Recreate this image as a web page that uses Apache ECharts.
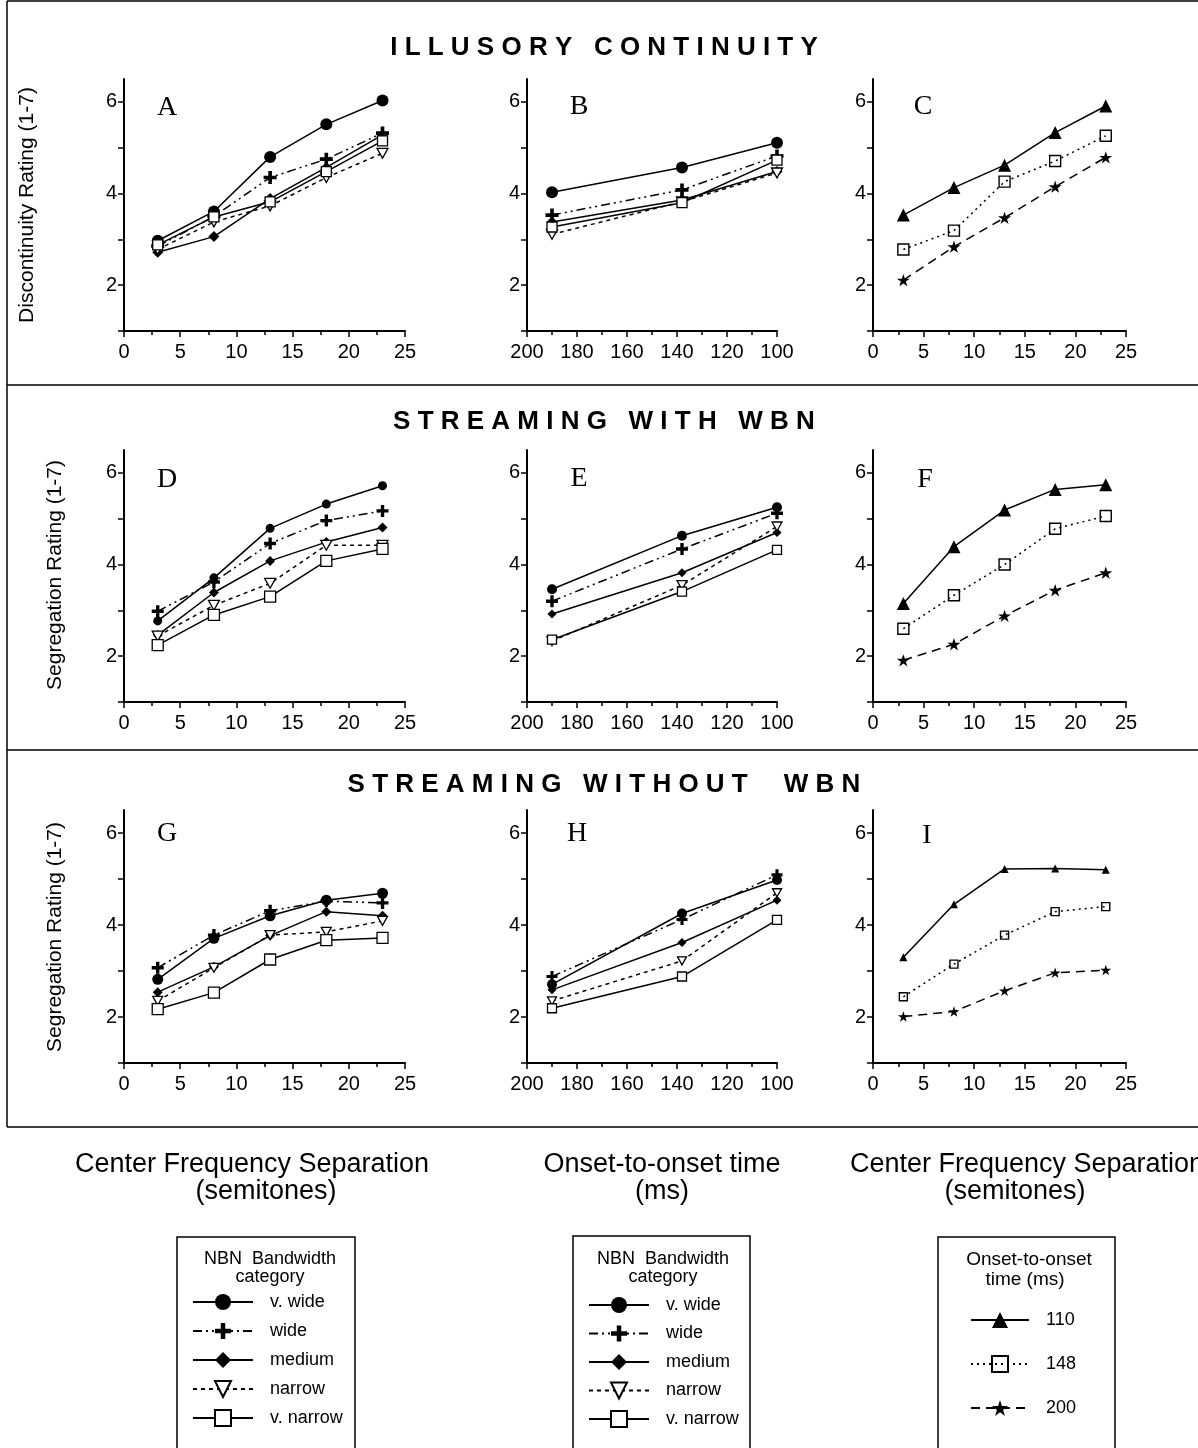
<!DOCTYPE html>
<html><head><meta charset="utf-8">
<script src="https://cdn.jsdelivr.net/npm/echarts@6/dist/echarts.min.js"></script>
<style>html,body{margin:0;padding:0;background:#fff}#c{width:1198px;height:1448px}</style>
</head><body><div id="c"></div>
<script>
// ---------------- DATA ----------------
const semitones = [3, 8, 13, 18, 23];
const onsetTimes = [190, 138, 100];
const nbnCategories = ['v. wide', 'wide', 'medium', 'narrow', 'v. narrow'];
const onsetCategories = ['110', '148', '200'];
const semitoneTickLabels = [0, 5, 10, 15, 20, 25];
const onsetTickLabels = [200, 180, 160, 140, 120, 100];
const ratingTickLabels = [2, 4, 6];
const ratingTicks = [1, 2, 3, 4, 5, 6];

// Illusory continuity
const panelA = [ // v. wide, wide, medium, narrow, v. narrow (x = semitones)
  [2.97, 3.61, 4.80, 5.51, 6.03],
  [2.85, 3.50, 4.35, 4.75, 5.32],
  [2.72, 3.06, 3.89, 4.57, 5.28],
  [2.78, 3.38, 3.73, 4.35, 4.88],
  [2.88, 3.49, 3.82, 4.48, 5.15]
];
const panelB = [ // x = onset times
  [4.03, 4.57, 5.11],
  [3.53, 4.08, 4.82],
  [3.38, 3.86, 4.48],
  [3.11, 3.82, 4.45],
  [3.27, 3.80, 4.73]
];
const panelC = [ // 110, 148, 200 ms
  [3.53, 4.13, 4.62, 5.33, 5.91],
  [2.78, 3.19, 4.26, 4.71, 5.26],
  [2.11, 2.84, 3.47, 4.15, 4.79]
];
// Streaming with WBN
const panelD = [
  [2.77, 3.71, 4.79, 5.32, 5.72],
  [2.98, 3.62, 4.46, 4.96, 5.17],
  [2.46, 3.39, 4.08, 4.49, 4.81],
  [2.44, 3.11, 3.59, 4.42, 4.42],
  [2.24, 2.90, 3.30, 4.08, 4.34]
];
const panelE = [
  [3.46, 4.63, 5.25],
  [3.20, 4.34, 5.12],
  [2.92, 3.82, 4.70],
  [2.33, 3.55, 4.83],
  [2.36, 3.41, 4.32]
];
const panelF = [
  [3.15, 4.39, 5.19, 5.64, 5.74],
  [2.60, 3.33, 4.00, 4.78, 5.06],
  [1.91, 2.26, 2.88, 3.44, 3.82]
];
// Streaming without WBN
const panelG = [
  [2.82, 3.71, 4.20, 4.54, 4.69],
  [3.07, 3.78, 4.31, 4.52, 4.48],
  [2.54, 3.09, 3.77, 4.29, 4.20],
  [2.35, 3.07, 3.78, 3.85, 4.09],
  [2.17, 2.53, 3.25, 3.67, 3.72]
];
const panelH = [
  [2.71, 4.25, 4.98],
  [2.88, 4.12, 5.09],
  [2.59, 3.62, 4.54],
  [2.35, 3.22, 4.70],
  [2.19, 2.88, 4.11]
];
const panelI = [
  [3.30, 4.45, 5.22, 5.23, 5.20],
  [2.44, 3.15, 3.78, 4.29, 4.40],
  [2.01, 2.12, 2.57, 2.96, 3.02]
];

// ---------------- STYLES ----------------
const FONT = "'Liberation Sans', Arial, Helvetica, sans-serif";
const SERIF = "'Liberation Serif', 'Times New Roman', serif";
const plusPath = 'path://M3.6,0H6.4V3.6H10V6.4H6.4V10H3.6V6.4H0V3.6H3.6Z';
const triDownPath = 'path://M0,0H10L5,9Z';
const starPath = 'path://M50,0L61.2,34.5H97.6L68.2,55.9L79.4,90.5L50,69.1L20.6,90.5L31.8,55.9L2.4,34.5H38.8Z';

const nbnStyles = [
  {symbol: 'circle', dash: 'solid', fill: '#000', bw: 0},
  {symbol: plusPath, dash: [9, 4, 2, 4, 2, 4], fill: '#000', bw: 0},
  {symbol: 'diamond', dash: 'solid', fill: '#000', bw: 0},
  {symbol: triDownPath, dash: [4, 4], fill: '#fff', bw: 1.3},
  {symbol: 'rect', dash: 'solid', fill: '#fff', bw: 1.3}
];
const onsetStyles = [
  {symbol: 'triangle', dash: 'solid', fill: '#000', bw: 0},
  {symbol: 'rect', dash: [2, 4], fill: 'rgba(0,0,0,0)', bw: 1.4},
  {symbol: starPath, dash: [9, 6], fill: '#000', bw: 0}
];

const colLeft = [124, 527, 873];
const colWidth = [281, 250, 253];
const rowTop = [79, 450, 810];
const rowHeight = [252, 252, 253];

const panels = [
  {data: panelA, kind: 'nbn', x: 'semi', sizes: [12, 13, 11, 11, 10]},
  {data: panelB, kind: 'nbn', x: 'onset', sizes: [12, 13, 11, 11, 10]},
  {data: panelC, kind: 'onset', x: 'semi', sizes: [13, 11, 13]},
  {data: panelD, kind: 'nbn', x: 'semi', sizes: [9, 12, 10, 11, 11]},
  {data: panelE, kind: 'nbn', x: 'onset', sizes: [10, 12, 9, 10, 9]},
  {data: panelF, kind: 'onset', x: 'semi', sizes: [13, 11, 13]},
  {data: panelG, kind: 'nbn', x: 'semi', sizes: [11, 12, 10, 10, 11]},
  {data: panelH, kind: 'nbn', x: 'onset', sizes: [10, 11, 9, 9, 9]},
  {data: panelI, kind: 'onset', x: 'semi', sizes: [8, 8, 11]}
];

const grids = [], xAxes = [], yAxes = [], series = [];
const axisLineStyle = {color: '#000', width: 2};
const labelStyle = {color: '#000', fontFamily: FONT, fontSize: 20};

panels.forEach((p, i) => {
  const r = Math.floor(i / 3), c = i % 3;
  grids.push({left: colLeft[c], top: rowTop[r], width: colWidth[c], height: rowHeight[r], containLabel: false});
  if (p.x === 'semi') {
    xAxes.push({
      type: 'value', gridIndex: i, min: 0, max: 25, interval: 5,
      axisLine: {show: true, onZero: false, lineStyle: axisLineStyle},
      axisTick: {show: true, length: 6, lineStyle: {color: '#000', width: 1.5}},
      minorTick: {show: true, splitNumber: 2, length: 4, lineStyle: {color: '#000', width: 1.5}},
      axisLabel: Object.assign({margin: 11, customValues: semitoneTickLabels}, labelStyle),
      splitLine: {show: false}, minorSplitLine: {show: false}
    });
  } else {
    xAxes.push({
      type: 'value', gridIndex: i, min: 100, max: 200, interval: 20, inverse: true,
      axisLine: {show: true, onZero: false, lineStyle: axisLineStyle},
      axisTick: {show: true, length: 6, lineStyle: {color: '#000', width: 1.5}},
      minorTick: {show: true, splitNumber: 2, length: 4, lineStyle: {color: '#000', width: 1.5}},
      axisLabel: Object.assign({margin: 11, customValues: onsetTickLabels}, labelStyle),
      splitLine: {show: false}, minorSplitLine: {show: false}
    });
  }
  yAxes.push({
    type: 'value', gridIndex: i, min: 1, max: 6.5, position: 'left',
    axisLine: {show: true, onZero: false, lineStyle: axisLineStyle},
    axisTick: {show: true, length: 6, customValues: ratingTicks, lineStyle: {color: '#000', width: 1.5}},
    axisLabel: Object.assign({margin: 7, customValues: ratingTickLabels}, labelStyle),
    splitLine: {show: false}
  });
  const xs = p.x === 'semi' ? semitones : onsetTimes;
  const names = p.kind === 'nbn' ? nbnCategories : onsetCategories;
  const styles = p.kind === 'nbn' ? nbnStyles : onsetStyles;
  p.data.forEach((vals, k) => {
    series.push({
      type: 'line', name: names[k], xAxisIndex: i, yAxisIndex: i,
      data: xs.map((x, j) => [x, vals[j]]),
      symbol: styles[k].symbol, symbolSize: p.sizes[k], symbolKeepAspect: true,
      showSymbol: true, clip: false,
      lineStyle: {color: '#000', width: 1.5, type: styles[k].dash},
      itemStyle: {color: styles[k].fill, borderColor: '#000', borderWidth: styles[k].bw},
      emphasis: {disabled: true}, animation: false
    });
  });
});

// ---------------- GRAPHICS ----------------
const graphic = [];
function line(x1, y1, x2, y2, w) {
  graphic.push({type: 'line', shape: {x1, y1, x2, y2}, style: {stroke: '#000', lineWidth: w || 1.5}, silent: true});
}
function text(t, x, y, font, opts) {
  graphic.push(Object.assign({type: 'text', x, y, silent: true,
    style: {text: t, font, fill: '#000', textAlign: 'center', textVerticalAlign: 'middle'}}, opts || {}));
}
// frame
line(7, 1, 1198, 1);
line(7, 1, 7, 1127);
line(7, 385, 1198, 385);
line(7, 750, 1198, 750);
line(7, 1127, 1198, 1127);
// section titles
text('I L L U S O R Y   C O N T I N U I T Y', 604, 48, 'bold 26px ' + FONT);
text('S T R E A M I N G   W I T H   W B N', 604, 422, 'bold 26px ' + FONT);
text('S T R E A M I N G   W I T H O U T     W B N', 604, 785, 'bold 26px ' + FONT);
// panel letters
const letterPos = [['A', 167, 108], ['B', 579, 107], ['C', 923, 107], ['D', 167, 480], ['E', 579, 479],
  ['F', 925, 480], ['G', 167, 834], ['H', 577, 834], ['I', 927, 836]];
letterPos.forEach(l => text(l[0], l[1], l[2], '28px ' + SERIF));
// y axis titles
text('Discontinuity Rating (1-7)', 27, 205, '21px ' + FONT, {rotation: Math.PI / 2});
text('Segregation Rating (1-7)', 55, 575, '21px ' + FONT, {rotation: Math.PI / 2});
text('Segregation Rating (1-7)', 55, 937, '21px ' + FONT, {rotation: Math.PI / 2});
// x axis titles
text('Center Frequency Separation', 252, 1165, '27px ' + FONT);
text('(semitones)', 266, 1192, '27px ' + FONT);
text('Onset-to-onset time', 662, 1165, '27px ' + FONT);
text('(ms)', 662, 1192, '27px ' + FONT);
text('Center Frequency Separation', 1027, 1165, '27px ' + FONT);
text('(semitones)', 1015, 1192, '27px ' + FONT);
// legend boxes (bottom edges run past the page edge)
graphic.push({type: 'rect', shape: {x: 177, y: 1237, width: 178, height: 230}, style: {fill: 'none', stroke: '#000', lineWidth: 1.5}, silent: true});
graphic.push({type: 'rect', shape: {x: 573, y: 1236, width: 177, height: 230}, style: {fill: 'none', stroke: '#000', lineWidth: 1.5}, silent: true});
graphic.push({type: 'rect', shape: {x: 938, y: 1237, width: 177, height: 230}, style: {fill: 'none', stroke: '#000', lineWidth: 1.5}, silent: true});
text('NBN  Bandwidth', 270, 1259, '18px ' + FONT);
text('category', 270, 1277, '18px ' + FONT);
text('NBN  Bandwidth', 663, 1259, '18px ' + FONT);
text('category', 663, 1277, '18px ' + FONT);
text('Onset-to-onset', 1029, 1260, '19px ' + FONT);
text('time (ms)', 1025, 1280, '19px ' + FONT);

const legendText = {color: '#000', fontFamily: FONT, fontSize: 18, lineHeight: 20, padding: [0, 0, 0, 12]};
const legends = [
  {data: nbnCategories, left: 192, top: 1292, orient: 'vertical', itemWidth: 60, itemHeight: 20, itemGap: 9,
    padding: 0, selectedMode: false, textStyle: legendText},
  {data: nbnCategories, left: 588, top: 1295, orient: 'vertical', itemWidth: 60, itemHeight: 20, itemGap: 8.5,
    padding: 0, selectedMode: false, textStyle: legendText},
  {data: onsetCategories, left: 970, top: 1310, orient: 'vertical', itemWidth: 58, itemHeight: 20, itemGap: 24,
    padding: 0, selectedMode: false, textStyle: legendText}
];

const chart = echarts.init(document.getElementById('c'), null, {renderer: 'canvas'});
chart.setOption({
  animation: false,
  backgroundColor: '#fff',
  grid: grids, xAxis: xAxes, yAxis: yAxes, series,
  legend: legends,
  graphic
});
</script></body></html>
